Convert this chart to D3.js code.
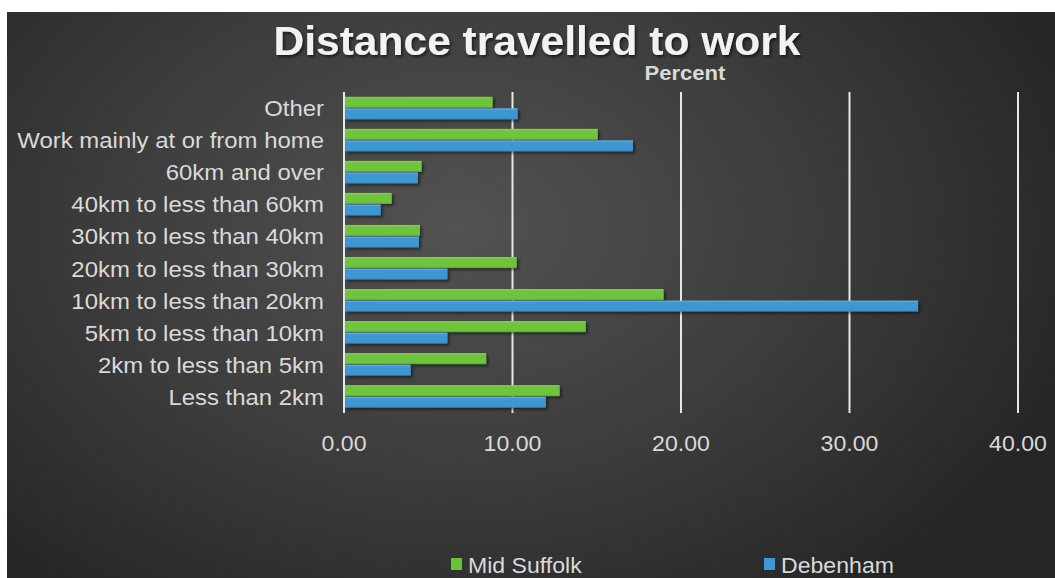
<!DOCTYPE html>
<html>
<head>
<meta charset="utf-8">
<script src="https://cdn.jsdelivr.net/npm/d3@7"></script>
<style>
  html, body { margin: 0; padding: 0; background: #fff; }
  svg { display: block; font-family: "Liberation Sans", Arial, sans-serif; }
</style>
</head>
<body>
<script>
var categories = ["Less than 2km", "2km to less than 5km", "5km to less than 10km",
  "10km to less than 20km", "20km to less than 30km", "30km to less than 40km",
  "40km to less than 60km", "60km and over", "Work mainly at or from home", "Other"];
var series = ["Mid Suffolk", "Debenham"];
var midSuffolk = [12.80, 8.44, 14.35, 18.97, 10.25, 4.51, 2.83, 4.61, 15.06, 8.82];
var debenham = [11.98, 3.96, 6.14, 34.07, 6.14, 4.45, 2.18, 4.39, 17.15, 10.31];
var xTicks = [0, 10, 20, 30, 40];

var width = 1055, height = 578;
var sx = 1.05; // text in the picture is a touch wider than it is tall

var svg = d3.select("body").append("svg")
    .attr("width", width)
    .attr("height", height);

var defs = svg.append("defs");

var bg = defs.append("radialGradient").attr("id", "bg")
    .attr("cx", "0.43").attr("cy", "0.38").attr("r", "0.62")
    .attr("gradientTransform", "translate(0.43,0.38) scale(1,1.3) translate(-0.43,-0.38)");
bg.append("stop").attr("offset", "0").attr("stop-color", "#525252");
bg.append("stop").attr("offset", "0.55").attr("stop-color", "#3c3c3c");
bg.append("stop").attr("offset", "1").attr("stop-color", "#262626");

function barGrad(id, c1, c2, c3) {
  var g = defs.append("linearGradient").attr("id", id)
      .attr("x1", 0).attr("y1", 0).attr("x2", 0).attr("y2", 1);
  g.append("stop").attr("offset", "0").attr("stop-color", c1);
  g.append("stop").attr("offset", "0.2").attr("stop-color", c2);
  g.append("stop").attr("offset", "0.85").attr("stop-color", c2);
  g.append("stop").attr("offset", "1").attr("stop-color", c3);
}
barGrad("gGreen", "#84d250", "#6ec43b", "#5aa82e");
barGrad("gBlue", "#6ab3e2", "#3e97d2", "#3285be");

var shadow = defs.append("filter").attr("id", "shadow")
    .attr("x", "-10%").attr("y", "-50%").attr("width", "130%").attr("height", "250%");
shadow.append("feDropShadow").attr("dx", 2).attr("dy", 2)
    .attr("stdDeviation", 1.8).attr("flood-color", "#000").attr("flood-opacity", 0.5);

var tShadow = defs.append("filter").attr("id", "tshadow")
    .attr("x", "-5%").attr("y", "-20%").attr("width", "110%").attr("height", "150%");
tShadow.append("feDropShadow").attr("dx", 1.5).attr("dy", 2)
    .attr("stdDeviation", 1.5).attr("flood-color", "#000").attr("flood-opacity", 0.6);

// chart area (white margin left and top as in the picture)
svg.append("rect")
    .attr("x", 7).attr("y", 12)
    .attr("width", width - 7).attr("height", height - 12)
    .attr("fill", "url(#bg)");

var x = d3.scaleLinear().domain([0, 40]).range([344, 1018]);
var y0 = d3.scaleBand().domain(categories.slice().reverse())
    .range([92, 413]).paddingInner(0.28).paddingOuter(0.15);
var y1 = d3.scaleBand().domain(series).range([0, y0.bandwidth()]);
var color = d3.scaleOrdinal().domain(series).range(["url(#gGreen)", "url(#gBlue)"]);
var swatch = d3.scaleOrdinal().domain(series).range(["#66c435", "#3d98d6"]);

function stretched(sel, px, py) {
  return sel.attr("transform", function(d, i) {
    return "translate(" + px(d, i) + "," + py(d, i) + ") scale(" + sx + ",1)";
  });
}

// title
stretched(svg.append("text").datum(0), function() { return 537; }, function() { return 55; })
    .attr("text-anchor", "middle")
    .attr("font-size", 40.5).attr("font-weight", "bold")
    .attr("fill", "#f2f2f2").attr("filter", "url(#tshadow)")
    .text("Distance travelled to work");

// axis title
stretched(svg.append("text").datum(0), function() { return 685; }, function() { return 80; })
    .attr("text-anchor", "middle")
    .attr("font-size", 21).attr("font-weight", "bold")
    .attr("fill", "#d9d9d9")
    .text("Percent");

// gridlines
svg.append("g").selectAll("line").data(xTicks).enter().append("line")
    .attr("x1", function(d) { return x(d); })
    .attr("x2", function(d) { return x(d); })
    .attr("y1", 92).attr("y2", 413)
    .attr("stroke", "#e8e8e8").attr("stroke-width", 2);

// bars
var rows = categories.map(function(c, i) {
  return { cat: c, vals: [
    { s: series[0], v: midSuffolk[i] },
    { s: series[1], v: debenham[i] }
  ] };
});

var group = svg.append("g").selectAll("g").data(rows).enter().append("g")
    .attr("transform", function(d) { return "translate(0," + y0(d.cat) + ")"; });

group.selectAll("rect").data(function(d) { return d.vals; }).enter().append("rect")
    .attr("x", x(0) + 1)
    .attr("y", function(d) { return y1(d.s); })
    .attr("width", function(d) { return x(d.v) - x(0) - 1; })
    .attr("height", y1.bandwidth() - 0.5)
    .attr("fill", function(d) { return color(d.s); })
    .attr("filter", "url(#shadow)");

// category labels
stretched(svg.append("g").selectAll("text").data(categories).enter().append("text"),
    function() { return 324; },
    function(d) { return y0(d) + y0.bandwidth() / 2 + 8; })
    .attr("text-anchor", "end")
    .attr("font-size", 22.8)
    .attr("fill", "#d9d9d9")
    .text(function(d) { return d; });

// x axis labels
var fmt = d3.format(".2f");
stretched(svg.append("g").selectAll("text").data(xTicks).enter().append("text"),
    function(d) { return x(d); },
    function() { return 451; })
    .attr("text-anchor", "middle")
    .attr("font-size", 22)
    .attr("fill", "#d9d9d9")
    .text(function(d) { return fmt(d); });

// legend
var legendX = [451, 764];
var legend = svg.append("g").selectAll("g").data(series).enter().append("g")
    .attr("transform", function(d, i) { return "translate(" + legendX[i] + ",558)"; });
legend.append("rect")
    .attr("width", 11).attr("height", 12)
    .attr("fill", function(d) { return swatch(d); });
stretched(legend.append("text"), function() { return 17; }, function() { return 14.5; })
    .attr("font-size", 22)
    .attr("fill", "#d9d9d9")
    .text(function(d) { return d; });
</script>
</body>
</html>
